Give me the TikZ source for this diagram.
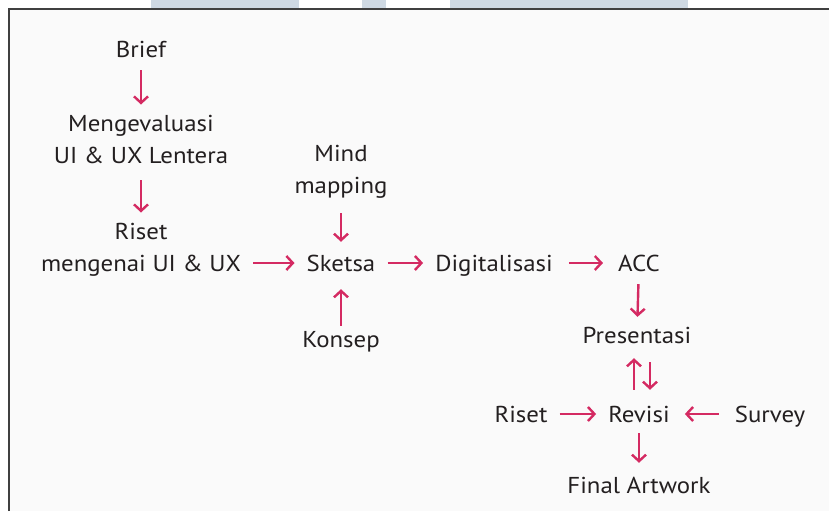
\documentclass[tikz,border=0pt]{standalone}
\usepackage{fontspec}
\setmainfont{PT Sans}[FakeStretch=1.08]
\usepackage{xcolor}
\usetikzlibrary{arrows.meta}

\definecolor{arrowred}{HTML}{D42A62}
\definecolor{txtgray}{HTML}{231F20}
\definecolor{barblue}{HTML}{CFD9E3}
\definecolor{pagebg}{HTML}{FAFAFA}

\begin{document}
\begin{tikzpicture}[
  x=1pt, y=-1pt,
  edge/.style={-{Straight Barb[length=6.5pt,width=14pt]}, line width=2.4pt, arrowred,
    shorten <=12pt, shorten >=12pt},
  lbl/.style={text=txtgray, inner sep=0pt, anchor=base, text height=16pt, text depth=0pt,
    font=\fontsize{23}{32}\selectfont},
  lbl2/.style={text=txtgray, inner sep=0pt, anchor=base, align=center,
    font=\fontsize{23}{32}\selectfont}
]
  \useasboundingbox (0,0) rectangle (829,511);
  % frame
  \fill[barblue] (151,0) rectangle (299,8);
  \fill[barblue] (362,0) rectangle (386,8);
  \fill[barblue] (450,0) rectangle (688,8);
  \fill[pagebg] (9,9) rectangle (829,511);
  \draw[line width=2pt, black!75] (9,511) -- (9,9) -- (829,9);

  % nodes (two-line nodes sit on their last baseline)
  \node[lbl]  (brief)  at (141,58)  {Brief};
  \node[lbl2] (eval)   at (141,163) {Mengevaluasi\\UI \& UX Lentera};
  \node[lbl2] (riset)  at (141,271) {Riset\\mengenai UI \& UX};
  \node[lbl2] (mind)   at (341,193) {Mind\\mapping};
  \node[lbl]  (sketsa) at (341,271) {Sketsa};
  \node[lbl]  (konsep) at (341,347) {Konsep};
  \node[lbl]  (digi)   at (494,271) {Digitalisasi};
  \node[lbl]  (acc)    at (639,271) {ACC};
  \node[lbl]  (pres)   at (637,343) {Presentasi};
  \node[lbl]  (revisi) at (639,422) {Revisi};
  \node[lbl]  (riset2) at (521,422) {Riset};
  \node[lbl]  (survey) at (770,422) {Survey};
  \node[lbl]  (final)  at (639,493) {Final Artwork};

  % edges
  \draw[edge, shorten >=10pt] (brief) -- (eval);
  \draw[edge, shorten <=17pt, shorten >=10pt] (eval) -- (riset);
  \draw[edge] (riset.east |- sketsa.west) -- (sketsa.west);
  \draw[edge, shorten <=15pt, shorten >=13pt] (mind) -- (sketsa);
  \draw[edge, shorten <=5pt, shorten >=18pt] (konsep) -- (sketsa);
  \draw[edge] (sketsa) -- (digi);
  \draw[edge, shorten <=16pt, shorten >=15pt] (digi) -- (acc);
  \draw[edge, shorten <=13pt, shorten >=10pt] (acc) -- (pres);
  \draw[edge, shorten <=16pt, shorten >=15pt] ([xshift=-5pt]revisi.north) -- ([xshift=-3pt]pres.south);
  \draw[edge, shorten <=19pt, shorten >=16pt] ([xshift=13pt]pres.south) -- ([xshift=11pt]revisi.north);
  \draw[edge] (riset2) -- (revisi);
  \draw[edge, shorten <=16pt, shorten >=15pt] (survey) -- (revisi);
  \draw[edge, shorten <=11pt, shorten >=14pt] (revisi) -- (final);
\end{tikzpicture}
\end{document}
